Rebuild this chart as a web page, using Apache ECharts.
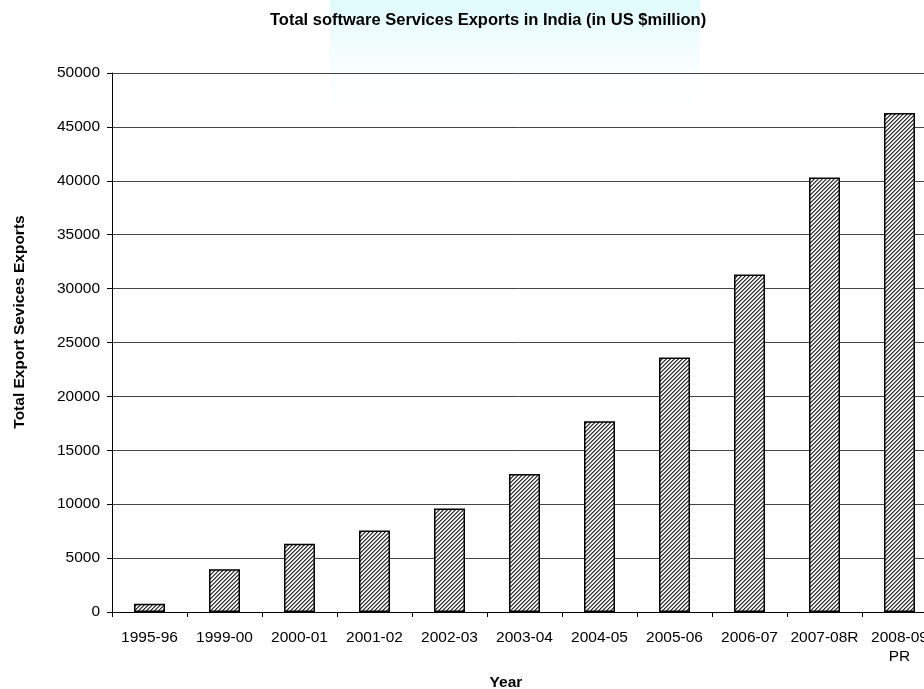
<!DOCTYPE html>
<html>
<head>
<meta charset="utf-8">
<script src="https://cdn.jsdelivr.net/npm/echarts@6/dist/echarts.min.js"></script>
<style>
html,body{margin:0;padding:0;background:#fff;}
#chart{width:924px;height:689px;}
</style>
</head>
<body>
<div id="chart"></div>
<script>
const categories = ['1995-96','1999-00','2000-01','2001-02','2002-03','2003-04','2004-05','2005-06','2006-07','2007-08R','2008-09\nPR'];
const exportsValues = [754, 3962, 6341, 7556, 9600, 12800, 17700, 23600, 31300, 40300, 46300];
const yTicks = {min: 0, max: 50000, interval: 5000};
const titleText = 'Total software Services Exports in India (in US $million)';
const xName = 'Year';
const yName = 'Total Export Sevices Exports';

function hatch() {
  const c = document.createElement('canvas');
  c.width = 8; c.height = 8;
  const ctx = c.getContext('2d');
  const img = ctx.createImageData(8, 8);
  for (let y = 0; y < 8; y++) {
    for (let x = 0; x < 8; x++) {
      const m = (x + y) % 4;
      let v = 255;
      if (m === 0) v = 50; else if (m === 1) v = 130; else if (m === 3) v = 230;
      const i = (y * 8 + x) * 4;
      img.data[i] = v; img.data[i+1] = v; img.data[i+2] = v; img.data[i+3] = 255;
    }
  }
  ctx.putImageData(img, 0, 0);
  return c;
}

const chart = echarts.init(document.getElementById('chart'), null, {renderer: 'canvas'});
const font = '"Liberation Sans", Arial, sans-serif';
chart.setOption({
  backgroundColor: '#fff',
  animation: false,
  title: {
    text: titleText,
    left: 265,
    top: 7,
    textStyle: {fontFamily: font, fontSize: 16.5, fontWeight: 'bold', color: '#000'}
  },
  graphic: [
    {
      type: 'rect', z: -10, silent: true,
      shape: {x: 330, y: 0, width: 370, height: 120},
      style: {fill: new echarts.graphic.LinearGradient(0, 0, 0, 1, [
        {offset: 0, color: 'rgba(200,248,248,0.6)'},
        {offset: 1, color: 'rgba(255,255,255,0)'}
      ])}
    },
    {
      type: 'text', x: 506, y: 683,
      style: {text: xName, font: 'bold 15.5px ' + font, fill: '#000', align: 'center', verticalAlign: 'middle'}
    },
    {
      type: 'text', x: 20, y: 322, rotation: Math.PI / 2,
      style: {text: yName, font: 'bold 15.5px ' + font, fill: '#000', align: 'center', verticalAlign: 'middle'}
    }
  ],
  grid: {left: 112, width: 825, top: 73, bottom: 77, containLabel: false, outerBoundsMode: 'none'},
  xAxis: {
    type: 'category',
    data: categories,
    axisLine: {lineStyle: {color: '#000', width: 1}},
    axisTick: {show: true, length: 5, lineStyle: {color: '#000'}},
    axisLabel: {color: '#000', fontFamily: font, fontSize: 15.5, margin: 16, interval: 0, lineHeight: 19, hideOverlap: false},
    splitLine: {show: false}
  },
  yAxis: {
    type: 'value',
    min: yTicks.min, max: yTicks.max, interval: yTicks.interval,
    axisLine: {show: true, lineStyle: {color: '#000', width: 1}},
    axisTick: {show: true, length: 5, lineStyle: {color: '#000'}},
    axisLabel: {color: '#000', fontFamily: font, fontSize: 15.5, margin: 12, formatter: function (v) { return String(v); }},
    splitLine: {show: true, lineStyle: {color: '#444', width: 1}}
  },
  series: [{
    type: 'bar',
    data: exportsValues,
    barWidth: 31,
    itemStyle: {
      color: {image: hatch(), repeat: 'repeat'},
      borderColor: '#000',
      borderWidth: 1.5
    }
  }]
});
</script>
</body>
</html>
